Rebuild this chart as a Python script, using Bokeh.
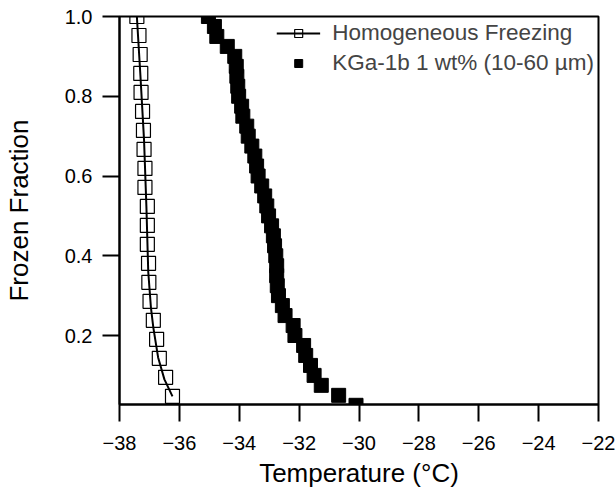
from bokeh.plotting import figure
from bokeh.models import Range1d, FixedTicker, Legend, LegendItem, NumeralTickFormatter
from bokeh.embed import file_html
from bokeh.resources import INLINE

# Homogeneous freezing (open squares) - temperature (°C) and frozen fraction
homog_T = [-37.42, -37.35, -37.31, -37.29, -37.28, -37.23, -37.20, -37.18, -37.15, -37.15,
           -37.07, -37.07, -37.07, -37.03, -37.02, -36.98, -36.87, -36.76, -36.67, -36.46, -36.23]
homog_frac = [k / 21 for k in range(21, 0, -1)]

# Smooth fit curve through homogeneous data
fit_T = [-37.42, -37.30, -37.18, -37.10, -37.04, -36.95, -36.87, -36.71, -36.50, -36.23]
fit_frac = [1.0, 0.85, 0.69, 0.52, 0.36, 0.27, 0.22, 0.145, 0.09, 0.0475]

# KGa-1b 1 wt% (10-60 µm) (filled squares)
kga_T = [-35.03, -34.83, -34.75, -34.40, -34.15, -34.10, -34.08, -34.05, -34.02, -33.92,
         -33.88, -33.75, -33.70, -33.58, -33.48, -33.42, -33.37, -33.25, -33.15, -33.08,
         -33.02, -32.92, -32.86, -32.82, -32.78, -32.75, -32.75, -32.73, -32.69, -32.56,
         -32.47, -32.20, -32.14, -31.85, -31.78, -31.62, -31.50, -31.26, -30.68, -30.10]
kga_frac = [k / 40 for k in range(40, 0, -1)]

x_ticks = [-38, -36, -34, -32, -30, -28, -26, -24, -22]
y_ticks = [0.2, 0.4, 0.6, 0.8, 1.0]

FONT = "Liberation Sans"

p = figure(width=616, height=491, output_backend="svg", toolbar_location=None,
           x_range=Range1d(-38, -22), y_range=Range1d(0.027, 1.0),
           min_border_left=112, min_border_top=16, min_border_right=18, min_border_bottom=87)
p.grid.visible = False
p.outline_line_color = "black"
p.outline_line_width = 2

for ax in (p.xaxis[0], p.yaxis[0]):
    ax.axis_line_width = 2
    ax.major_tick_line_width = 2
    ax.major_tick_out = 17
    ax.major_tick_in = 0
    ax.minor_tick_out = 0
    ax.minor_tick_in = 0
    ax.major_label_text_font = FONT
    ax.major_label_text_font_size = "20px"
    ax.major_label_text_color = "black"
    ax.axis_label_text_font = FONT
    ax.axis_label_text_font_style = "normal"
    ax.axis_label_text_font_size = "26px"
    ax.axis_label_text_color = "black"

p.xaxis.ticker = FixedTicker(ticks=x_ticks)
p.yaxis.ticker = FixedTicker(ticks=y_ticks)
p.yaxis.formatter = NumeralTickFormatter(format="0.0")
p.xaxis.axis_label = "Temperature (°C)"
p.yaxis.axis_label = "Frozen Fraction"
p.xaxis.major_label_standoff = 14
p.yaxis.major_label_standoff = 10
p.xaxis.axis_label_standoff = 5
p.yaxis.axis_label_standoff = 28

hom = p.scatter(homog_T, homog_frac, marker="square", size=14, fill_color=None,
                line_color="black", line_width=1.2)
fit = p.line(fit_T, fit_frac, line_color="black", line_width=2)
kga = p.scatter(kga_T, kga_frac, marker="square", size=14, fill_color="black",
                line_color="black", line_width=1)

legend = Legend(items=[LegendItem(label="Homogeneous Freezing", renderers=[fit, hom]),
                       LegendItem(label="KGa-1b 1 wt% (10-60 µm)", renderers=[kga])],
                location="top_right", margin=0, padding=4, spacing=4,
                glyph_width=44, glyph_height=20, label_standoff=12,
                label_text_font=FONT, label_text_font_size="22.5px",
                border_line_alpha=0, background_fill_alpha=0)
p.add_layout(legend)

open("out.html", "w").write(file_html(p, INLINE))
